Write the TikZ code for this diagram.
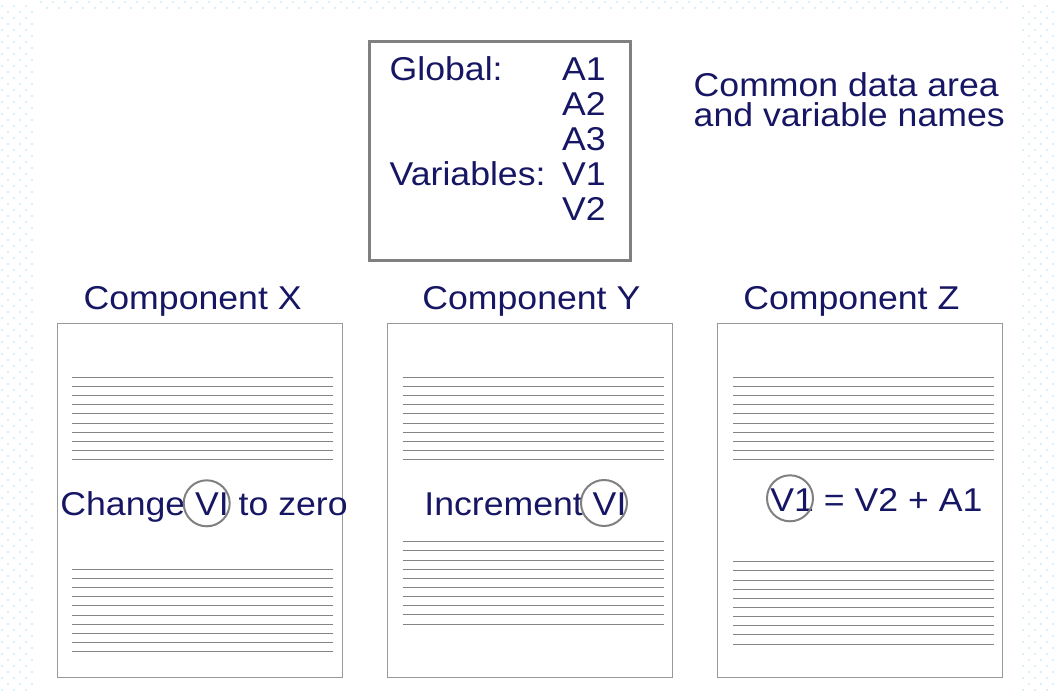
\documentclass[tikz,border=0pt]{standalone}
\usepackage{fontspec}
\setmainfont{Liberation Sans}[FakeStretch=1.08]
\usetikzlibrary{positioning}
\usetikzlibrary{calc}
\definecolor{text colour}{RGB}{22,22,100}
\definecolor{dot colour}{RGB}{215,240,250}
\colorlet{frame colour}{black!50}
\colorlet{page colour}{black!40}
\colorlet{rule colour}{black!48}
\colorlet{ring colour}{black!50}
\tikzset{
    % Slide text is dark blue, set flush left
    every node/.style={align=left, text=text colour, inner sep=0},
    slide text/.style={font=\fontsize{16.5}{17.5}\selectfont},
%
    % Lines and fills
    rule/.style={draw=rule colour, line width=0.5pt},
    dot fill/.style={fill=dot colour},
}

\begin{document}
\begin{tikzpicture}[
    x=0.5pt, y=-0.5pt,
    frame/.style={draw=frame colour, line width=1.35pt, anchor=north west},
    page/.style={draw=page colour, line width=0.5pt, anchor=north west,
        minimum width=142.5pt, minimum height=177pt},
    ring/.style={draw=ring colour, line width=1pt, circle, minimum size=23pt},
    ]

% Extent of the slide
\useasboundingbox (0,0) rectangle (1054,696);

% Faint dotted border of the slide
\foreach \j in {0,...,114} {
    \pgfmathsetmacro{\dy}{5+6*\j}
    \pgfmathsetmacro{\dx}{6*mod(\j,2)}
    \foreach \k in {0,1,2} {
        \fill [dot fill] ({1+\dx+12*\k},\dy) rectangle ++(1.6,1.6);
        \fill [dot fill] ({1022+\dx+12*\k},\dy) rectangle ++(1.6,1.6);
    }
}
\foreach \k in {0,...,80} {
    \fill [dot fill] ({40+12*\k},1) rectangle ++(1.6,1.6);
    \fill [dot fill] ({46+12*\k},7) rectangle ++(1.6,1.6);
}

% Common data area
\node [frame, minimum width=130.5pt, minimum height=109.6pt] (common) at (368.3,40) {};
\node [slide text, anchor=base west] (global) at (389.3,80) {Global:};
\node [slide text, anchor=base west] (variables) at (389.3,185) {Variables:};
\foreach \v [count=\i from 0] in {A1,A2,A3,V1,V2}
    \node [slide text, anchor=base west] (name \v) at (561.7,{80+35*\i}) {\v};

% base of a two-line node is its last line
\node [slide text, anchor=base west, font=\fontsize{16.5}{15.3}\selectfont]
    (caption) at (693.3,126.7) {Common data area\\and variable names};

% Components with their ruled listings
\foreach \n/\l/\t/\b in {X/56.7/83.3/246.6, Y/387.3/422/219, Z/717.3/743/239} {
    \node [page] (comp \n) at (\l,322.7) {};
    \node [slide text, anchor=base west] (title \n) at (\t,309.3) {Component \n};
    \foreach \k in {0,...,9} {
        \draw [rule] ($(comp \n.north west)+(15.5,{54.6+9.15*\k})$) -- +(261,0);
        \draw [rule] ($(comp \n.north west)+(15.5,{\b+9.15*\k})$) -- +(261,0);
    }
}

% Statements, with the shared variable ringed
\node [slide text, anchor=base west] (action X) at (60,515) {Change VI to zero};
\node [ring] (ring X) at (206.7,503.3) {};
\node [slide text, anchor=base west] (action Y) at (424,515) {Increment VI};
\node [ring] (ring Y) at (604,503) {};
\node [slide text, anchor=base west] (action Z) at (770,511.7) {V1 = V2 + A1};
\node [ring] (ring Z) at (790,498.3) {};

\end{tikzpicture}
\end{document}
